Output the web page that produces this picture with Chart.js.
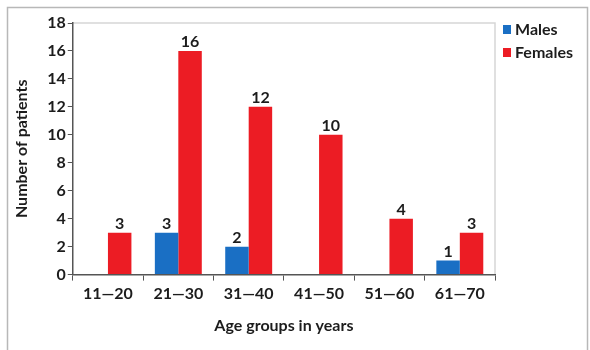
<!DOCTYPE html>
<html>
<head>
<meta charset="utf-8">
<script src="https://cdn.jsdelivr.net/npm/chart.js@4/dist/chart.umd.min.js"></script>
<style>
  html, body { margin: 0; padding: 0; background: #ffffff; }
  #wrap { width: 590px; height: 350px; position: relative; }
</style>
</head>
<body>
<div id="wrap"><canvas id="c" width="590" height="350"></canvas></div>
<script>
const categories = ["11\u201420", "21\u201430", "31\u201440", "41\u201450", "51\u201460", "61\u201470"];
const males = [0, 3, 2, 0, 0, 1];
const females = [3, 16, 12, 10, 4, 3];
const yTicks = [0, 2, 4, 6, 8, 10, 12, 14, 16, 18];

const FONT = "Lato, 'Open Sans', sans-serif";
const TEXT = "#1c1c1c";
const FS = 16;

const framePlugin = {
  id: 'frames',
  beforeDraw(chart) {
    const ctx = chart.ctx;
    ctx.save();
    ctx.fillStyle = '#ffffff';
    ctx.fillRect(0, 0, chart.width, chart.height);
    // outer frame
    ctx.strokeStyle = '#b8b8b8';
    ctx.lineWidth = 1.5;
    ctx.strokeRect(7.5, 7.5, 580, 370);
    // plot frame (top and right)
    const a = chart.chartArea;
    ctx.strokeStyle = '#d6d6d6';
    ctx.lineWidth = 1.5;
    ctx.beginPath();
    ctx.moveTo(a.left, a.top);
    ctx.lineTo(a.right, a.top);
    ctx.lineTo(a.right, a.bottom);
    ctx.stroke();
    ctx.restore();
  },
  afterDatasetsDraw(chart) {
    const ctx = chart.ctx;
    ctx.save();
    ctx.font = "bold " + FS + "px " + FONT;
    ctx.fillStyle = TEXT;
    ctx.textAlign = 'center';
    ctx.textBaseline = 'bottom';
    chart.data.datasets.forEach((ds, i) => {
      const meta = chart.getDatasetMeta(i);
      meta.data.forEach((bar, j) => {
        const v = ds.data[j];
        if (v > 0) ctx.fillText(String(v), bar.x, bar.y - 1);
      });
    });
    // legend
    const a = chart.chartArea;
    ctx.textAlign = 'left';
    ctx.textBaseline = 'middle';
    chart.data.datasets.forEach((ds, i) => {
      const y = a.top + 7 + i * 23;
      ctx.fillStyle = ds.backgroundColor;
      ctx.fillRect(a.right + 8, y - 5, 8, 9);
      ctx.fillStyle = TEXT;
      ctx.fillText(ds.label, a.right + 20, y);
    });
    ctx.restore();
  }
};

new Chart(document.getElementById('c'), {
  type: 'bar',
  data: {
    labels: categories,
    datasets: [
      { label: 'Males', data: males, backgroundColor: '#1a6fc4', borderWidth: 0 },
      { label: 'Females', data: females, backgroundColor: '#ec1c24', borderWidth: 0 }
    ]
  },
  options: {
    responsive: false,
    animation: false,
    devicePixelRatio: 1,
    layout: { padding: { top: 23, right: 95, left: 8, bottom: 11 } },
    datasets: { bar: { categoryPercentage: 0.667, barPercentage: 1.0 } },
    plugins: {
      legend: { display: false },
      tooltip: { enabled: false }
    },
    scales: {
      x: {
        grid: { display: true, drawOnChartArea: false, drawTicks: true, tickLength: 6, color: '#555555', offset: true },
        border: { display: true, color: '#555555', width: 1.5 },
        ticks: { color: TEXT, font: { family: FONT, size: FS, weight: 'bold' }, padding: 4, maxRotation: 0 },
        title: { display: true, text: 'Age groups in years', color: TEXT, font: { family: FONT, size: FS, weight: 'bold' }, padding: { top: 8, bottom: 4 } }
      },
      y: {
        min: 0, max: 18,
        afterBuildTicks(scale) { scale.ticks = yTicks.map(v => ({ value: v })); },
        grid: { display: true, drawOnChartArea: false, drawTicks: true, tickLength: 5, color: '#555555' },
        border: { display: true, color: '#555555', width: 1.5 },
        ticks: { color: TEXT, font: { family: FONT, size: FS, weight: 'bold' }, padding: 2 },
        title: { display: true, text: 'Number of patients', color: TEXT, font: { family: FONT, size: FS, weight: 'bold' }, padding: { top: 4, bottom: 14 } }
      }
    }
  },
  plugins: [framePlugin]
});
</script>
</body>
</html>
